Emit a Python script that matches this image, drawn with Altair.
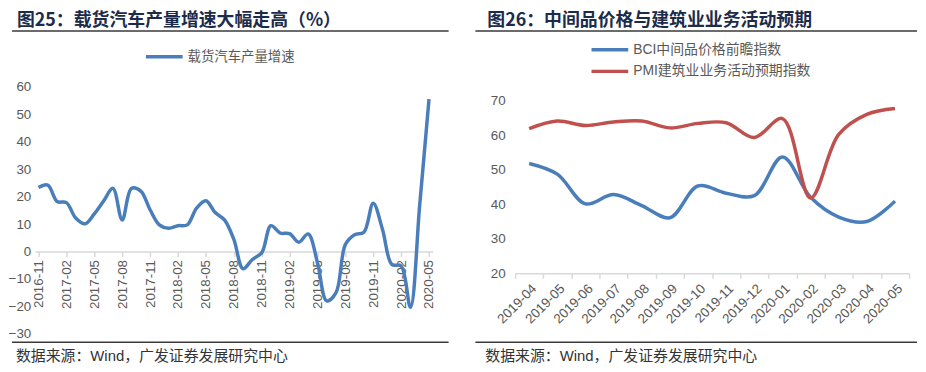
import altair as alt
import pandas as pd

# ---------------- data ----------------
truck_months = ["2016-11", "2016-12", "2017-01", "2017-02", "2017-03", "2017-04", "2017-05",
                "2017-06", "2017-07", "2017-08", "2017-09", "2017-10", "2017-11", "2017-12",
                "2018-01", "2018-02", "2018-03", "2018-04", "2018-05", "2018-06", "2018-07",
                "2018-08", "2018-09", "2018-10", "2018-11", "2018-12", "2019-01", "2019-02",
                "2019-03", "2019-04", "2019-05", "2019-06", "2019-07", "2019-08", "2019-09",
                "2019-10", "2019-11", "2019-12", "2020-01", "2020-02", "2020-03", "2020-04",
                "2020-05"]
truck_growth = [23.3, 24.2, 18.2, 17.8, 12.2, 10.1, 13.7, 18.4, 23.0, 11.5, 23.0, 22.0,
                15.2, 9.7, 8.5, 9.4, 9.7, 15.8, 18.5, 14.2, 11.5, 4.5, -6.3, -2.9, -0.5,
                9.4, 6.7, 6.5, 3.4, 6.4, -4.0, -18.0, -15.0, 2.5, 6.1, 7.0, 17.6, 8.0,
                -4.7, -5.3, -20.3, 17.0, 55.5]
truck_ticks = ["2016-11", "2017-02", "2017-05", "2017-08", "2017-11", "2018-02", "2018-05",
               "2018-08", "2018-11", "2019-02", "2019-05", "2019-08", "2019-11", "2020-02",
               "2020-05"]
truck_series = "载货汽车产量增速"

idx_months = ["2019-04", "2019-05", "2019-06", "2019-07", "2019-08", "2019-09", "2019-10",
              "2019-11", "2019-12", "2020-01", "2020-02", "2020-03", "2020-04", "2020-05"]
bci_price = [51.8, 48.7, 40.1, 42.8, 39.6, 36.1, 45.3, 43.2, 42.5, 53.7, 42.0, 36.3, 35.0, 40.9]
pmi_expect = [61.9, 64.1, 62.8, 63.8, 64.1, 62.1, 63.4, 63.6, 59.3, 64.8, 41.8, 60.2, 66.0, 67.7]
bci_name = "BCI中间品价格前瞻指数"
pmi_name = "PMI建筑业业务活动预期指数"

title_left = "图25：载货汽车产量增速大幅走高（%）"
title_right = "图26：中间品价格与建筑业业务活动预期"
source_text = "数据来源：Wind，广发证券发展研究中心"

# ---------------- style ----------------
BLUE = "#4a7ebb"
RED = "#c0504d"
TXT = "#595959"
AXC = "#d9d9d9"
TITLE_C = "#1c2b4a"
LINE_C = "#3a3a3a"
FONT = "Liberation Sans, Noto Sans CJK SC"
CJK = "Noto Sans CJK SC"


def deco_text(text, x, y, size, color, weight="normal", font=FONT, baseline="top"):
    return alt.Chart(pd.DataFrame({"t": [text]})).mark_text(
        align="left", baseline=baseline, fontSize=size, font=font,
        fontWeight=weight, color=color
    ).encode(x=alt.value(x), y=alt.value(y), text="t:N")


def deco_rule(x1, x2, y, color, width):
    return alt.Chart(pd.DataFrame({"a": [0]})).mark_rule(
        color=color, strokeWidth=width
    ).encode(x=alt.value(x1), x2=alt.value(x2), y=alt.value(y))


# both panels share the same plot-area top (page y ~85.5)
TOP_Y = -77.0      # invisible spacer so the title glyphs are not clipped
TITLE_Y = -75.5
ULINE_Y = -56.2
BOTTOM_Y = 257.5
SOURCE_Y = 271.0

# ---------------- left panel ----------------
W1, H1 = 401, 249
df1 = pd.DataFrame({"月份": truck_months, "增速": truck_growth})
line1 = alt.Chart(df1).mark_line(
    color=BLUE, strokeWidth=3.5, interpolate="catmull-rom"
).encode(
    x=alt.X("月份:O", sort=truck_months,
            scale=alt.Scale(type="point", padding=0.4),
            axis=alt.Axis(values=truck_ticks, labelAngle=-90, title=None, offset=-83,
                          domainColor=AXC, domainWidth=1.5, tickColor=AXC, tickSize=5,
                          tickWidth=1.5, labelColor=TXT, labelFontSize=13.5,
                          labelFont="Liberation Sans", labelPadding=3, grid=False)),
    y=alt.Y("增速:Q", scale=alt.Scale(domain=[-30, 60], nice=False, zero=False),
            axis=alt.Axis(values=list(range(-30, 61, 10)), title=None, domain=False,
                          ticks=False, grid=False, labelColor=TXT, labelFontSize=13.5,
                          labelFont="Liberation Sans", labelPadding=4)),
)

left = alt.layer(
    deco_rule(100, 120, TOP_Y, "white", 1),
    deco_text(title_left, -18, TITLE_Y, 18, TITLE_C, weight="bold", font=CJK),
    deco_rule(-23, 417, ULINE_Y, LINE_C, 1.5),
    deco_rule(112, 149, -30.2, BLUE, 3.5),
    deco_text(truck_series, 154, -30.2, 13.5, TXT, baseline="middle"),
    line1,
    deco_rule(-23, 417, BOTTOM_Y, LINE_C, 1.5),
    deco_text(source_text, -19, SOURCE_Y, 15, "#333333", baseline="middle"),
).properties(width=W1, height=H1)

# ---------------- right panel ----------------
W2, H2 = 397, 188
df2 = pd.DataFrame({
    "月份": idx_months * 2,
    "指数": bci_price + pmi_expect,
    "系列": [bci_name] * len(idx_months) + [pmi_name] * len(idx_months),
})
line2 = alt.Chart(df2).mark_line(strokeWidth=3.5, interpolate="catmull-rom").encode(
    x=alt.X("月份:O", sort=idx_months,
            scale=alt.Scale(type="band", paddingInner=0, paddingOuter=0),
            axis=alt.Axis(labelAngle=-45, title=None, domainColor=AXC, domainWidth=1.5,
                          tickColor=AXC, tickSize=5, tickWidth=1.5, tickBand="extent",
                          labelColor=TXT, labelFontSize=13.5, labelFont="Liberation Sans",
                          labelPadding=3, grid=False)),
    y=alt.Y("指数:Q", scale=alt.Scale(domain=[20, 74], nice=False, zero=False),
            axis=alt.Axis(values=list(range(20, 71, 10)), title=None, domain=False,
                          ticks=False, grid=False, labelColor=TXT, labelFontSize=13.5,
                          labelFont="Liberation Sans", labelPadding=10)),
    color=alt.Color("系列:N", scale=alt.Scale(domain=[bci_name, pmi_name], range=[BLUE, RED]),
                    legend=None),
)

right = alt.layer(
    deco_rule(100, 120, TOP_Y, "white", 1),
    deco_text(title_right, -28, TITLE_Y, 18, TITLE_C, weight="bold", font=CJK),
    deco_rule(-40, 405, ULINE_Y, LINE_C, 1.5),
    deco_rule(77, 114, -37.2, BLUE, 3.5),
    deco_text(bci_name, 119, -37.2, 14, TXT, baseline="middle"),
    deco_rule(77, 114, -15.5, RED, 3.5),
    deco_text(pmi_name, 119, -15.5, 14, TXT, baseline="middle"),
    line2,
    deco_rule(-40, 405, BOTTOM_Y, LINE_C, 1.5),
    deco_text(source_text, -30, SOURCE_Y, 15, "#333333", baseline="middle"),
).properties(width=W2, height=H2)

chart = alt.hconcat(left, right, spacing=25).properties(
    padding=0, background="white"
).configure_view(stroke=None)

chart.save("out.html", embed_options={"renderer": "svg", "actions": False})
